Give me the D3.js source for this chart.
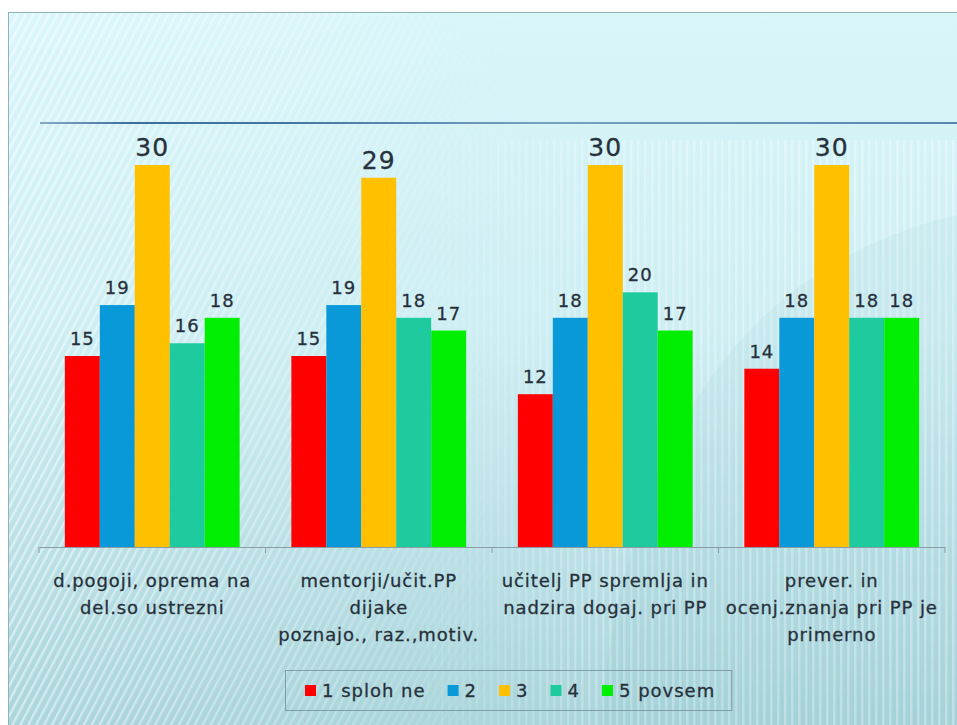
<!DOCTYPE html>
<html>
<head>
<meta charset="utf-8">
<script src="https://cdn.jsdelivr.net/npm/d3@7"></script>
<style>
  body { margin: 0; background: #fff; }
  svg { display: block; font-family: "DejaVu Sans", sans-serif; }
</style>
</head>
<body>
<svg></svg>
<script>
const size = {w: 957, h: 725};

// chart data
const categories = ['cat1', 'cat2', 'cat3', 'cat4'];
const categoryLines = [
    ['d.pogoji, oprema na', 'del.so ustrezni'],
    ['mentorji/učit.PP', 'dijake', 'poznajo., raz.,motiv.'],
    ['učitelj PP spremlja in', 'nadzira dogaj. pri PP'],
    ['prever. in', 'ocenj.znanja pri PP je', 'primerno']
];
const seriesNames = ['1 sploh ne', '2', '3', '4', '5 povsem'];
const seriesColors = ['#ff0000', '#0a99d8', '#ffc000', '#1ecb9e', '#00ef00'];
const s1 = [15, 15, 12, 14];
const s2 = [19, 19, 18, 18];
const s3 = [30, 29, 30, 30];
const s4 = [16, 18, 20, 18];
const s5 = [18, 17, 17, 18];
const seriesValues = [s1, s2, s3, s4, s5];

const svg = d3.select('svg')
    .attr('width', size.w)
    .attr('height', size.h);

const defs = svg.append('defs');

// slide background
let bg = defs.append('linearGradient').attr('id', 'bg')
    .attr('x1', 0).attr('y1', 0).attr('x2', 0).attr('y2', 1);
bg.append('stop').attr('offset', '0%').attr('stop-color', '#d9f6fa');
bg.append('stop').attr('offset', '45%').attr('stop-color', '#cdeef3');
bg.append('stop').attr('offset', '100%').attr('stop-color', '#aad5db');

let diag = defs.append('pattern').attr('id', 'diag')
    .attr('width', 7).attr('height', 7)
    .attr('patternUnits', 'userSpaceOnUse')
    .attr('patternTransform', 'rotate(28)');
diag.append('rect').attr('width', 2.5).attr('height', 7).attr('fill', '#ffffff').attr('opacity', 0.5);

let vert = defs.append('pattern').attr('id', 'vert')
    .attr('width', 7).attr('height', 7)
    .attr('patternUnits', 'userSpaceOnUse');
vert.append('rect').attr('width', 2.5).attr('height', 7).attr('fill', '#ffffff').attr('opacity', 0.4);

let fadeL = defs.append('linearGradient').attr('id', 'fadeL')
    .attr('x1', 0).attr('y1', 0).attr('x2', 1).attr('y2', 0);
fadeL.append('stop').attr('offset', '0%').attr('stop-color', '#fff').attr('stop-opacity', 1);
fadeL.append('stop').attr('offset', '55%').attr('stop-color', '#fff').attr('stop-opacity', 0.6);
fadeL.append('stop').attr('offset', '100%').attr('stop-color', '#fff').attr('stop-opacity', 0);
defs.append('mask').attr('id', 'maskL')
    .append('rect').attr('width', 520).attr('height', size.h).attr('fill', 'url(#fadeL)');

let fadeR = defs.append('linearGradient').attr('id', 'fadeR')
    .attr('x1', 0).attr('y1', 0).attr('x2', 1).attr('y2', 0);
fadeR.append('stop').attr('offset', '0%').attr('stop-color', '#fff').attr('stop-opacity', 0);
fadeR.append('stop').attr('offset', '40%').attr('stop-color', '#fff').attr('stop-opacity', 0.7);
fadeR.append('stop').attr('offset', '100%').attr('stop-color', '#fff').attr('stop-opacity', 0.9);
defs.append('mask').attr('id', 'maskR')
    .append('rect').attr('x', 380).attr('width', 577).attr('height', size.h).attr('fill', 'url(#fadeR)');

// horizontal line -> gradient must be in user space
let lineGrad = defs.append('linearGradient').attr('id', 'topline')
    .attr('gradientUnits', 'userSpaceOnUse')
    .attr('x1', 40).attr('y1', 0).attr('x2', size.w).attr('y2', 0);
lineGrad.append('stop').attr('offset', '0%').attr('stop-color', '#86aac6');
lineGrad.append('stop').attr('offset', '10%').attr('stop-color', '#3c6e9e');
lineGrad.append('stop').attr('offset', '28%').attr('stop-color', '#4676a3');
lineGrad.append('stop').attr('offset', '55%').attr('stop-color', '#7aa0c0');
lineGrad.append('stop').attr('offset', '100%').attr('stop-color', '#5a86ae');

const slide = svg.append('g').classed('slide', true);
slide.append('rect')
    .attr('x', 8).attr('y', 12)
    .attr('width', size.w - 8).attr('height', size.h - 12)
    .attr('fill', 'url(#bg)');
slide.append('rect')
    .attr('x', 8).attr('y', 12)
    .attr('width', size.w - 8).attr('height', size.h - 12)
    .attr('fill', 'url(#diag)').attr('mask', 'url(#maskL)');
slide.append('rect')
    .attr('x', 8).attr('y', 140)
    .attr('width', size.w - 8).attr('height', size.h - 140)
    .attr('fill', 'url(#vert)').attr('mask', 'url(#maskR)');
// faint darker sweep at the right
slide.append('path')
    .attr('d', 'M 600 725 Q 640 290 957 215 L 957 725 Z')
    .attr('fill', '#5fa7b3').attr('opacity', 0.07);
slide.append('rect')
    .attr('x', 8.5).attr('y', 12.5)
    .attr('width', size.w - 8).attr('height', size.h - 12)
    .attr('fill', 'none').attr('stroke', '#8fb3b8');
slide.append('line')
    .attr('x1', 40).attr('x2', size.w)
    .attr('y1', 123).attr('y2', 123)
    .attr('stroke', 'url(#topline)').attr('stroke-width', 2);

// scales
const plot = {l: 39, r: 945, t: 165, b: 547};

let x0 = d3.scaleBand()
    .domain(categories)
    .range([plot.l, plot.r])
    .padding(0);

let x1 = d3.scaleBand()
    .domain(d3.range(seriesNames.length))
    .range([0, x0.bandwidth()])
    .paddingInner(0)
    .paddingOuter(0.74);

let y = d3.scaleLinear()
    .domain([0, 30])
    .range([plot.b, plot.t]);

const textColor = '#27313b';

// bars
const chartG = svg.append('g').classed('chart', true);
const groups = chartG.selectAll('g.cat')
    .data(categories)
    .enter()
    .append('g')
    .classed('cat', true)
    .attr('transform', d => `translate(${x0(d)},0)`);

groups.selectAll('rect')
    .data((d, i) => seriesValues.map((s, j) => ({series: j, value: s[i]})))
    .enter()
    .append('rect')
    .attr('x', d => x1(d.series))
    .attr('width', x1.bandwidth())
    .attr('y', d => y(d.value))
    .attr('height', d => plot.b - y(d.value))
    .attr('fill', d => seriesColors[d.series]);

// value labels (series "3" labels are enlarged)
groups.selectAll('text.val')
    .data((d, i) => seriesValues.map((s, j) => ({series: j, value: s[i]})))
    .enter()
    .append('text')
    .classed('val', true)
    .attr('x', d => x1(d.series) + x1.bandwidth() / 2)
    .attr('y', d => y(d.value) - (d.series === 2 ? 9 : 11))
    .attr('text-anchor', 'middle')
    .attr('font-size', d => d.series === 2 ? 25 : 18)
    .attr('letter-spacing', 1)
    .attr('fill', textColor)
    .attr('stroke', textColor).attr('stroke-width', 0.3)
    .text(d => d.value);

// x axis
let xAxis = d3.axisBottom(x0)
    .tickSize(0)
    .tickFormat('');
const axisG = chartG.append('g')
    .attr('transform', `translate(0,${plot.b})`)
    .call(xAxis);
axisG.select('.domain').attr('stroke', '#8c9ca2').attr('stroke-width', 1.2);
axisG.selectAll('.tick').remove();

axisG.selectAll('line.sep')
    .data(d3.range(categories.length + 1))
    .enter()
    .append('line')
    .classed('sep', true)
    .attr('x1', i => plot.l + i * x0.step())
    .attr('x2', i => plot.l + i * x0.step())
    .attr('y1', 0).attr('y2', 6)
    .attr('stroke', '#8c9ca2');

// category labels
const catLabels = chartG.selectAll('text.cat')
    .data(categories)
    .enter()
    .append('text')
    .classed('cat', true)
    .attr('text-anchor', 'middle')
    .attr('font-size', 18)
    .attr('letter-spacing', 0.9)
    .attr('fill', textColor)
    .attr('stroke', textColor).attr('stroke-width', 0.3);
catLabels.selectAll('tspan')
    .data((d, i) => categoryLines[i].map(t => ({cat: d, t: t})))
    .enter()
    .append('tspan')
    .attr('x', d => x0(d.cat) + x0.bandwidth() / 2)
    .attr('y', (d, i) => 587 + i * 27)
    .text(d => d.t);

// legend
const legend = svg.append('g').classed('legend', true);
const legendBox = legend.append('rect')
    .attr('y', 670.5).attr('height', 40)
    .attr('fill', 'none')
    .attr('stroke', '#7f9ea4');

let lx = 305;
seriesNames.forEach((name, i) => {
    legend.append('rect')
        .attr('x', lx).attr('y', 685)
        .attr('width', 11).attr('height', 11)
        .attr('fill', seriesColors[i]);
    let t = legend.append('text')
        .attr('x', lx + 17).attr('y', 697)
        .attr('font-size', 18)
        .attr('letter-spacing', 1)
        .attr('fill', textColor)
        .attr('stroke', textColor).attr('stroke-width', 0.3)
        .text(name);
    lx += 17 + t.node().getComputedTextLength() + 22;
});
legendBox.attr('x', 285.5).attr('width', lx - 22 + 16 - 285);
</script>
</body>
</html>
